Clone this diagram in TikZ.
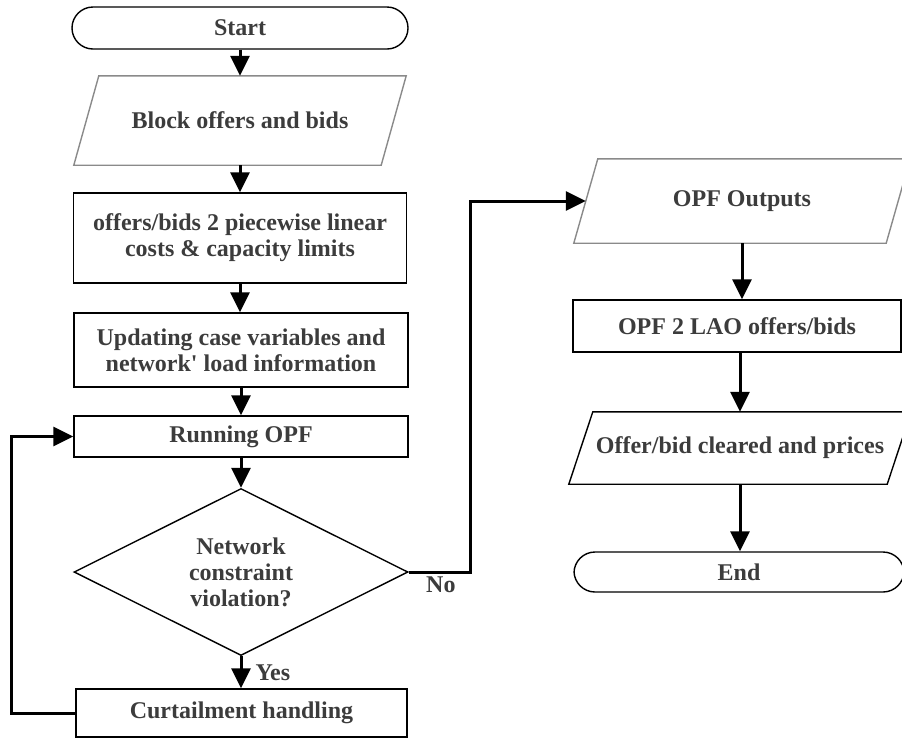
\documentclass[tikz,border=0pt]{standalone}
\usepackage{fontspec}
\setmainfont{Liberation Serif}
\usepackage{xcolor}
\usepackage{tikz}
\usetikzlibrary{arrows.meta}
\usetikzlibrary{shapes.geometric, calc}
\definecolor{txtgray}{HTML}{3C3C3C}
\definecolor{bordergray}{HTML}{8A8A8A}

\begin{document}
\begin{tikzpicture}[x=1pt, y=-1pt,
        every node/.style={font=\bfseries\fontsize{24}{26}\selectfont, text=txtgray, align=center},
        terminal/.style={draw, line width=1.4pt, rectangle, rounded corners=21pt, minimum height=42pt},
        process/.style={draw, line width=1.4pt, rectangle},
        io/.style={rectangle},
        decision/.style={draw, line width=1.4pt, diamond, inner sep=0pt, aspect=2},
        flow/.style={line width=3pt, -{Triangle[length=20pt, width=19pt]}},
        lbl/.style={inner sep=1pt}]
        \useasboundingbox (0,0) rectangle (902,740);
        % left column
        \node[terminal, minimum width=336pt] (start) at (240,28) {Start};
        \node[io, minimum width=307pt, minimum height=89pt] (block) at (240,120.5) {Block offers and bids};
        \node[process, minimum width=333pt, minimum height=90pt] (conv) at (240,238) {offers/bids 2 piecewise linear\\costs \& capacity limits};
        \node[process, minimum width=334pt, minimum height=74pt] (upd) at (241,350) {Updating case variables and\\network\textquotesingle{} load information};
        \node[process, minimum width=334pt, minimum height=41pt] (run) at (241,436.5) {Running OPF};
        \node[decision, minimum width=334pt, minimum height=167pt] (dec) at (241,572) {Network\\constraint\\violation?};
        \node[process, minimum width=331pt, minimum height=48pt] (curt) at (241.5,713) {Curtailment handling};
        % right column
        \node[io, minimum width=312pt, minimum height=84pt] (out) at (742,201) {OPF Outputs};
        \node[process, minimum width=328pt, minimum height=52pt] (lao) at (737,326) {OPF 2 LAO offers/bids};
        \node[io, minimum width=318pt, minimum height=72pt] (clr) at (740,448) {Offer/bid cleared and prices};
        \node[terminal, minimum width=330pt, minimum height=40pt] (end) at (739,572) {End};

        % slanted input/output boxes
        \foreach \n/\s/\c in {block/12.5/bordergray, out/12/bordergray, clr/12/black}
            \draw[\c, line width=1.4pt] ($(\n.south west)+(-\s,0)$) -- ($(\n.south east)+(-\s,0)$)
                -- ($(\n.north east)+(\s,0)$) -- ($(\n.north west)+(\s,0)$) -- cycle;

        \draw[flow] (start.south) -- (block.north);
        \draw[flow] (block.south) -- (block.south |- conv.north);
        \draw[flow] (conv.south) -- (conv.south |- upd.north);
        \draw[flow] (upd.south) -- (upd.south |- run.north);
        \draw[flow] (run.south) -- (dec.north);
        \draw[flow] (dec.south) -- node[lbl, anchor=west, xshift=12pt] (yes) {Yes} (dec.south |- curt.north);
        \draw[flow] (curt.west) -- ++(-64,0) |- (run.west);
        \draw[flow] (dec.east) -- node[lbl, at start, anchor=north west, xshift=15pt, yshift=-2pt] (no) {No} ++(62,0) |- (out.west);
        \draw[flow] (out.south) -- (out.south |- lao.north);
        \draw[flow] (lao.south -| clr.north) -- (clr.north);
        \draw[flow] (clr.south) -- (clr.south |- end.north);
\end{tikzpicture}
\end{document}
